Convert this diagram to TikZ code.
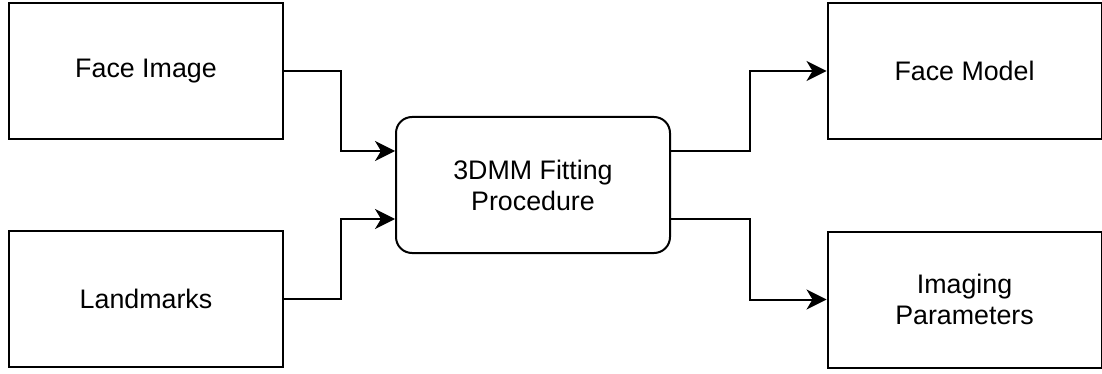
\documentclass[tikz,border=0pt]{standalone}
\usepackage{fontspec}
\setmainfont{Liberation Sans}
\usetikzlibrary{arrows.meta}
\begin{document}
\begin{tikzpicture}[x=1pt,y=-1pt,
  box/.style={draw=black,line width=2pt,minimum width=274pt,minimum height=136pt,inner sep=0pt,align=center,
    font=\fontsize{26.8}{31}\selectfont},
  rbox/.style={box,rounded corners=16pt},
  conn/.style={line width=2pt,-{Stealth[length=20pt,width=20pt,inset=6pt]}}]
\useasboundingbox (0,0) rectangle (1102,374);
\node[box] (lt) at (146,71) {Face Image};
\node[box] (lb) at (146,298.5) {Landmarks};
\node[rbox] (c) at (533,185) {3DMM Fitting\\Procedure};
\node[box] (rt) at (964.5,71) {Face Model};
\node[box] (rb) at (964.5,299.5) {Imaging\\Parameters};
\draw[conn] (lt.east) -- ++(57,0) |- ([yshift=34pt]c.west);
\draw[conn] (lb.east) -- ++(57,0) |- ([yshift=-34pt]c.west);
\draw[conn] ([yshift=34pt]c.east) -- ++(79,0) |- (rt.west);
\draw[conn] ([yshift=-34pt]c.east) -- ++(79,0) |- (rb.west);
\end{tikzpicture}
\end{document}
